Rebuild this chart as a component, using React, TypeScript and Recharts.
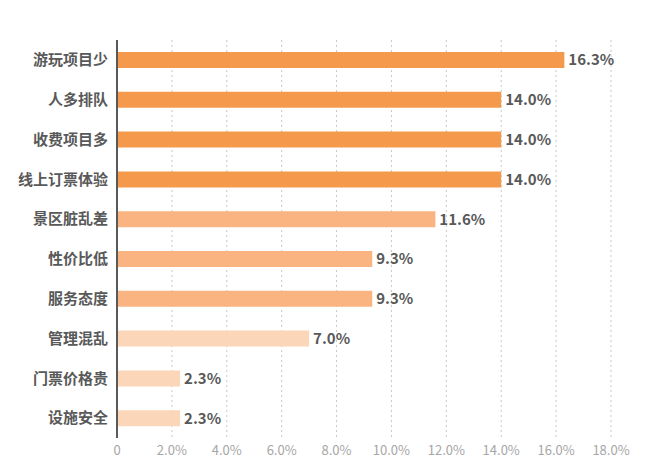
import { BarChart, Bar, XAxis, YAxis, CartesianGrid, Cell, LabelList } from 'recharts';

const categories = ['游玩项目少', '人多排队', '收费项目多', '线上订票体验', '景区脏乱差', '性价比低', '服务态度', '管理混乱', '门票价格贵', '设施安全'];
const shares = [16.3, 14.0, 14.0, 14.0, 11.6, 9.3, 9.3, 7.0, 2.3, 2.3];
const xTicks = [0, 2, 4, 6, 8, 10, 12, 14, 16, 18];

// tier shading: top four, middle three, bottom three
const BAR_COLORS = [
  '#F59A4C', '#F59A4C', '#F59A4C', '#F59A4C',
  '#F9B482', '#F9B482', '#F9B482',
  '#FCD6B8', '#FCD6B8', '#FCD6B8',
];

const FONT = '"Noto Sans CJK SC", "Noto Sans", sans-serif';

export default function App() {
  const data = categories.map((name, i) => ({ name, value: shares[i] }));

  return (
    <div style={{ position: 'absolute', left: 0, top: 0, width: 650, height: 466, background: '#fff', fontFamily: FONT }}>
      <BarChart
        width={650}
        height={466}
        layout="vertical"
        data={data}
        margin={{ top: 40, right: 39, left: 0, bottom: 6 }}
      >
        <CartesianGrid horizontal={false} stroke="#C8C8C8" strokeDasharray="2 3" />
        <XAxis
          type="number"
          domain={[0, 18]}
          ticks={xTicks}
          interval={0}
          axisLine={false}
          tickLine={false}
          tickSize={0}
          tickMargin={8}
          height={22}
          tick={{ fontSize: 13, fill: '#A6A6A6', fontFamily: FONT }}
          tickFormatter={(v: number) => (v === 0 ? '0' : v.toFixed(1) + '%')}
        />
        <YAxis
          type="category"
          dataKey="name"
          width={117}
          axisLine={{ stroke: '#595959', strokeWidth: 2 }}
          tickLine={false}
          tickSize={0}
          tickMargin={9}
          tick={{ fontSize: 15, fill: '#595959', fontWeight: 700, fontFamily: FONT }}
        />
        <Bar dataKey="value" barSize={16} isAnimationActive={false}>
          {data.map((d, i) => (
            <Cell key={d.name} fill={BAR_COLORS[i]} />
          ))}
          <LabelList
            dataKey="value"
            position="right"
            offset={4}
            fill="#595959"
            fontSize={15}
            fontWeight={700}
            fontFamily={FONT}
            formatter={(v: number) => v.toFixed(1) + '%'}
          />
        </Bar>
      </BarChart>
    </div>
  );
}
